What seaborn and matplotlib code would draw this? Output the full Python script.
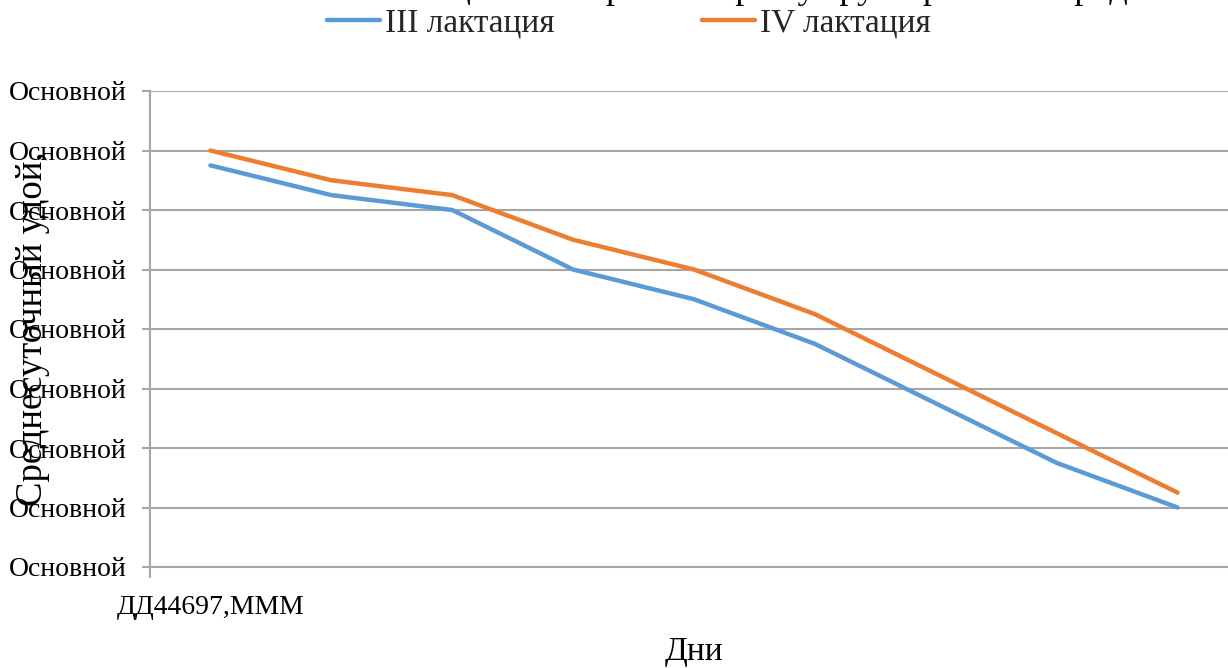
import matplotlib
matplotlib.use("Agg")
import matplotlib.pyplot as plt
import seaborn as sns
import pandas as pd

# ---- data ----
days = ["d1", "d2", "d3", "d4", "d5", "d6", "d7", "d8", "d9"]
x_tick_labels = ["ДД44697,МММ", "", "", "", "", "", "", "", ""]
lact3 = [21.5, 20.5, 20.0, 18.0, 17.0, 15.5, 13.5, 11.5, 10.0]
lact4 = [22.0, 21.0, 20.5, 19.0, 18.0, 16.5, 14.5, 12.5, 10.5]
series_names = ["III лактация", "IV лактация"]
y_ticks = [8, 10, 12, 14, 16, 18, 20, 22, 24]
y_tick_label = "Основной"
title_text = "Лактационная кривая коров у групп разной породы"
x_label = "Дни"
y_label = "Среднесуточный удой,"

sns.set_theme(style="white")
plt.rcParams["font.family"] = ["Liberation Serif", "DejaVu Serif"]

df = pd.DataFrame({
    "pos": list(range(len(days))) * 2,
    "value": lact3 + lact4,
    "series": [series_names[0]] * len(days) + [series_names[1]] * len(days),
})

W, H = 1228, 668
fig = plt.figure(figsize=(W / 100, H / 100), dpi=100)
ax = fig.add_axes([150 / W, 1 - 567 / H, 1088 / W, 476 / H])

palette = {series_names[0]: "#5B9BD5", series_names[1]: "#ED7D31"}
sns.lineplot(data=df, x="pos", y="value", hue="series", palette=palette,
             linewidth=3.2, ax=ax, legend=True)
handles, labels = ax.get_legend_handles_labels()
ax.get_legend().remove()

grid_c = "#A6A6A6"
ax.set_xlim(-0.5, len(days) - 0.5)
ax.set_ylim(y_ticks[0], y_ticks[-1])
ax.set_yticks(y_ticks)
ax.set_yticklabels([y_tick_label] * len(y_ticks))
ax.set_xticks(range(len(days)))
ax.set_xticklabels(x_tick_labels)
ax.set_xticks([-0.5], minor=True)
ax.yaxis.grid(True, color=grid_c, linewidth=1.5)
ax.xaxis.grid(False)
for s in ["top", "right"]:
    ax.spines[s].set_visible(False)
for s in ["left", "bottom"]:
    ax.spines[s].set_color(grid_c)
    ax.spines[s].set_linewidth(1.5)
ax.tick_params(axis="y", length=6, width=1.5, color=grid_c, pad=11,
               labelsize=20, labelcolor="black", left=True)
ax.tick_params(axis="x", which="major", length=0, pad=20, labelsize=20,
               labelcolor="black", bottom=True)
ax.tick_params(axis="x", which="minor", length=8, width=1.5, color=grid_c,
               bottom=True)

ax.set_xlabel(x_label, fontsize=24, color="black")
ax.xaxis.set_label_coords(0.5, -0.147)
ax.set_ylabel(y_label, fontsize=26.5, color="black")
ax.yaxis.label.set_verticalalignment("center")
ax.yaxis.set_label_coords(-0.1075, 0.5)

fig.legend(handles, labels, loc="center", bbox_to_anchor=(629 / W, 1 - 23 / H),
           ncol=2, frameon=False, fontsize=24, handlelength=1.6,
           handletextpad=0.15, columnspacing=4.4, borderaxespad=0,
           borderpad=0)

fig.text(757 / W, 1 + 2 / H, title_text, fontsize=26, ha="center",
         va="baseline", color="black")

fig.savefig("out.png", dpi=100)
